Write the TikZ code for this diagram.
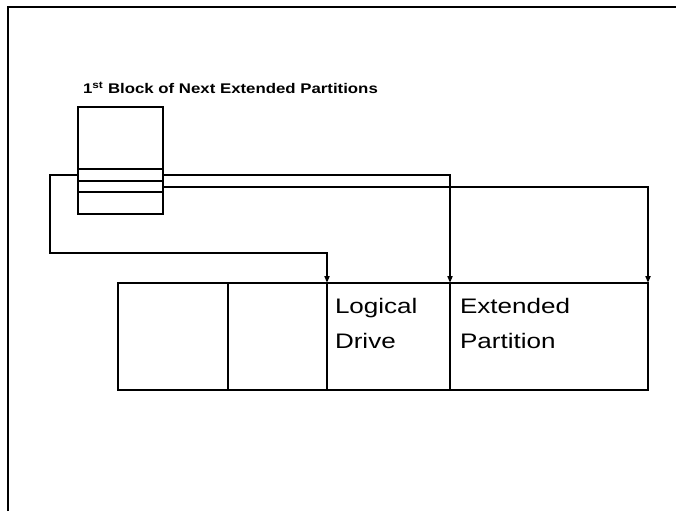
\documentclass[tikz,border=0pt]{standalone}
\usepackage{fontspec}
\setmainfont{Liberation Sans}
\usetikzlibrary{arrows.meta, positioning}

\begin{document}
\begin{tikzpicture}[
  x=1pt, y=-1pt,
  every node/.style={inner sep=0pt, outer sep=0pt},
  cell/.style={draw, line width=1.2pt, minimum height=107pt},
  slot/.style={draw, line width=2pt, minimum width=85pt},
  lbl/.style={anchor=base west, align=left, xscale=1.24, font=\fontsize{21}{35}\selectfont},
  arr/.style={-{Triangle[length=7pt, width=5pt]}, line width=2pt}
]
  \useasboundingbox (0,0) rectangle (676,511);
  % page frame
  \draw[line width=2.5pt] (8,511) -- (8,7) -- (676,7);

  % first block of the next extended partition
  \node[font=\fontsize{14}{16}\selectfont\bfseries, anchor=base west, xscale=1.2] (title) at (83,93.5) {1\textsuperscript{st} Block of Next Extended Partitions};
  \node[draw, line width=2pt, minimum width=85pt, minimum height=107pt] (blk) at (120.5,160.5) {};
  \node[slot, minimum height=12pt] (s1) at (120.5,175) {};
  \node[slot, minimum height=11pt] (s2) at (120.5,186.5) {};

  % partition table on disk
  \node[cell, minimum width=110pt] (c1) at (173,336.5) {};
  \node[cell, minimum width=99pt, right=0pt of c1] (c2) {};
  \node[cell, minimum width=123pt, right=0pt of c2] (c3) {};
  \node[cell, minimum width=198pt, right=0pt of c3] (c4) {};
  \draw[line width=2.5pt] (c1.north west) rectangle (c4.south east);
  \node[lbl] (ld) at (335,348) {Logical\\Drive};
  \node[lbl] (ep) at (460,348) {Extended\\Partition};

  % links
  \coordinate (bend) at (50,253);
  \draw[arr] (s1.west) -| (bend) -| (c3.north west);
  \draw[arr] (s1.east) -| (c4.north west);
  \draw[arr] (s2.east) -| (c4.north east);
\end{tikzpicture}
\end{document}
